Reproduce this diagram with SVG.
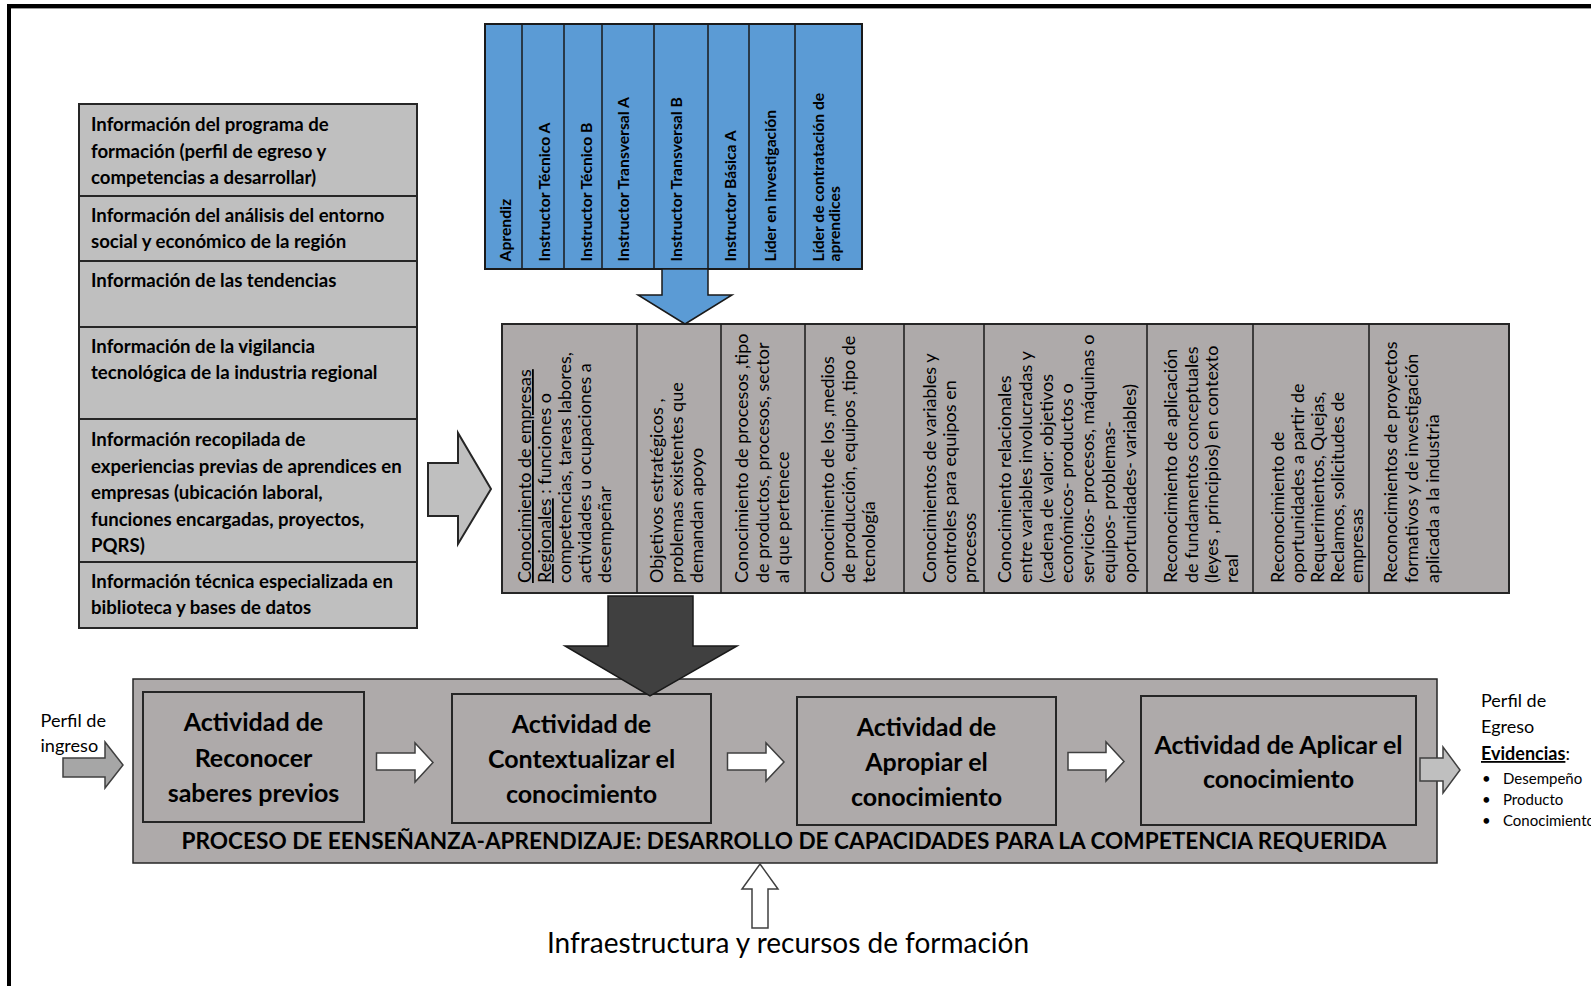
<svg xmlns="http://www.w3.org/2000/svg" width="1591" height="986" viewBox="0 0 1591 986">
<style>
.t{font-family:Lato,"Liberation Sans",sans-serif;fill:#000}
.bt{font-size:15.7px;font-weight:700}
.gt{font-size:18px}
.lt{font-size:18.6px;font-weight:700}
.at{font-size:25px;font-weight:700;text-anchor:middle}
.blue{fill:#5B9BD5;stroke:#1A1A1A;stroke-width:2}
.div{stroke:#1A1A1A;stroke-width:1.5;fill:none}
.gray{fill:#AEAAAA;stroke:#262626;stroke-width:2}
.light{fill:#BFBFBF;stroke:#262626;stroke-width:2}
.wa{fill:#FFFFFF;stroke:#404040;stroke-width:1.5}
.ga{stroke:#404040;stroke-width:1.5}
</style>
<rect width="1591" height="986" fill="#FFFFFF"/>
<g id="frame">
<rect x="7" y="4" width="1584" height="4" fill="#000"/>
<rect x="7" y="4" width="4" height="982" fill="#000"/>
<line x1="11" y1="8.5" x2="1591" y2="8.5" stroke="#9A9A9A" stroke-width="1"/>
</g>

<g id="roles">
<rect class="blue" x="485" y="24" width="377" height="245"/>
<path class="div" d="M522 24V269M564 24V269M602 24V269M654 24V269M708 24V269M749 24V269M795 24V269"/>
<text class="t bt" transform="translate(0,261.5) rotate(-90)">
<tspan x="0" y="511">Aprendiz</tspan>
<tspan x="0" y="550">Instructor Técnico  A</tspan>
<tspan x="0" y="591.5">Instructor Técnico  B</tspan>
<tspan x="0" y="629">Instructor Transversal A</tspan>
<tspan x="0" y="681.5">Instructor Transversal B</tspan>
<tspan x="0" y="735.5">Instructor Básica A</tspan>
<tspan x="0" y="775.5">Líder en investigación</tspan>
<tspan x="0" y="824">Líder de contratación de</tspan>
<tspan x="0" y="840">aprendices</tspan>
</text>
</g>

<g id="info">
<rect class="light" x="79" y="104" width="338" height="92"/>
<rect class="light" x="79" y="196" width="338" height="65"/>
<rect class="light" x="79" y="261" width="338" height="66"/>
<rect class="light" x="79" y="327" width="338" height="92"/>
<rect class="light" x="79" y="419" width="338" height="143"/>
<rect class="light" x="79" y="562" width="338" height="66"/>
<text class="t lt">
<tspan x="91" y="131">Información del programa de</tspan>
<tspan x="91" y="157.5">formación (perfil de egreso y</tspan>
<tspan x="91" y="184">competencias a desarrollar)</tspan>
<tspan x="91" y="221.5">Información del análisis del entorno</tspan>
<tspan x="91" y="247.5">social y económico de la región</tspan>
<tspan x="91" y="287">Información de las tendencias</tspan>
<tspan x="91" y="352.5">Información de la vigilancia</tspan>
<tspan x="91" y="378.5">tecnológica de la industria regional</tspan>
<tspan x="91" y="446">Información recopilada de</tspan>
<tspan x="91" y="472.5">experiencias previas de aprendices en</tspan>
<tspan x="91" y="499">empresas (ubicación  laboral,</tspan>
<tspan x="91" y="525.5">funciones encargadas, proyectos,</tspan>
<tspan x="91" y="552">PQRS)</tspan>
<tspan x="91" y="588">Información técnica especializada en</tspan>
<tspan x="91" y="614">biblioteca y bases de datos</tspan>
</text>
</g>

<g id="knowledge">
<rect class="gray" x="502" y="324" width="1007" height="269"/>
<path class="div" d="M637 324V593M721 324V593M805 324V593M904 324V593M984 324V593M1147 324V593M1253 324V593M1369 324V593"/>
<text class="t gt" transform="translate(0,583) rotate(-90)">
<tspan x="0" y="531" text-decoration="underline">Conocimiento de empresas</tspan>
<tspan x="0" y="551"><tspan text-decoration="underline">Regionales</tspan> : funciones o</tspan>
<tspan x="0" y="571">competencias, tareas labores,</tspan>
<tspan x="0" y="591">actividades u ocupaciones a</tspan>
<tspan x="0" y="611">desempeñar</tspan>
<tspan x="0" y="663">Objetivos estratégicos ,</tspan>
<tspan x="0" y="683">problemas existentes que</tspan>
<tspan x="0" y="703">demandan apoyo</tspan>
<tspan x="0" y="748">Conocimiento de procesos ,tipo</tspan>
<tspan x="0" y="768.5">de productos, procesos,  sector</tspan>
<tspan x="0" y="789">al que pertenece</tspan>
<tspan x="0" y="834">Conocimiento  de los ,medios</tspan>
<tspan x="0" y="854.5">de producción, equipos ,tipo de</tspan>
<tspan x="0" y="875">tecnología</tspan>
<tspan x="0" y="936">Conocimientos de variables y</tspan>
<tspan x="0" y="956">controles para equipos en</tspan>
<tspan x="0" y="976">procesos</tspan>
<tspan x="0" y="1011">Conocimiento relacionales</tspan>
<tspan x="0" y="1031.8">entre variables involucradas  y</tspan>
<tspan x="0" y="1052.6">(cadena de valor: objetivos</tspan>
<tspan x="0" y="1073.4">económicos- productos o</tspan>
<tspan x="0" y="1094.2">servicios- procesos, máquinas o</tspan>
<tspan x="0" y="1115">equipos-  problemas-</tspan>
<tspan x="0" y="1135.8">oportunidades- variables)</tspan>
<tspan x="0" y="1177">Reconocimiento de aplicación</tspan>
<tspan x="0" y="1197.5">de fundamentos conceptuales</tspan>
<tspan x="0" y="1218">(leyes , principios) en contexto</tspan>
<tspan x="0" y="1238">real</tspan>
<tspan x="0" y="1284">Reconocimiento de</tspan>
<tspan x="0" y="1304">oportunidades a partir de</tspan>
<tspan x="0" y="1324">Requerimientos, Quejas,</tspan>
<tspan x="0" y="1344">Reclamos, solicitudes de</tspan>
<tspan x="0" y="1363">empresas</tspan>
<tspan x="0" y="1397">Reconocimientos  de proyectos</tspan>
<tspan x="0" y="1418">formativos y de investigación</tspan>
<tspan x="0" y="1439">aplicada a la industria</tspan>
</text>
</g>

<g id="process">
<rect x="133" y="679" width="1304" height="184" fill="#AEAAAA" stroke="#262626" stroke-width="1.5"/>
<text class="t" x="784" y="849" text-anchor="middle" font-size="22.6" font-weight="700">PROCESO DE EENSEÑANZA-APRENDIZAJE: DESARROLLO DE CAPACIDADES PARA LA COMPETENCIA REQUERIDA</text>
</g>
<g id="act1">
<rect class="gray" x="143" y="692" width="221" height="130"/>
<text class="t at"><tspan x="253.5" y="731">Actividad de</tspan><tspan x="253.5" y="767">Reconocer</tspan><tspan x="253.5" y="802">saberes previos</tspan></text>
</g>
<g id="act2">
<rect class="gray" x="452" y="694" width="259" height="129"/>
<text class="t at"><tspan x="581.5" y="733">Actividad de</tspan><tspan x="581.5" y="768">Contextualizar el</tspan><tspan x="581.5" y="803">conocimiento</tspan></text>
</g>
<g id="act3">
<rect class="gray" x="797" y="697" width="259" height="128"/>
<text class="t at"><tspan x="926.5" y="736">Actividad de</tspan><tspan x="926.5" y="771">Apropiar el</tspan><tspan x="926.5" y="806">conocimiento</tspan></text>
</g>
<g id="act4">
<rect class="gray" x="1141" y="696" width="275" height="129"/>
<text class="t at"><tspan x="1278.5" y="754">Actividad de Aplicar el</tspan><tspan x="1278.5" y="788">conocimiento</tspan></text>
</g>

<g id="perfil-ingreso">
<text class="t" font-size="18.1"><tspan x="40.5" y="726.5">Perfil de</tspan><tspan x="40.5" y="751.5">ingreso</tspan></text>
</g>
<g id="perfil-egreso">
<text class="t" font-size="18"><tspan x="1481" y="707">Perfil de</tspan><tspan x="1481" y="733">Egreso</tspan><tspan x="1481" y="760" font-weight="700" text-decoration="underline">Evidencias</tspan><tspan>:</tspan></text>
<text class="t" font-size="15"><tspan x="1482" y="784">•</tspan><tspan x="1503" y="784">Desempeño</tspan><tspan x="1482" y="805">•</tspan><tspan x="1503" y="805">Producto</tspan><tspan x="1482" y="826">•</tspan><tspan x="1503" y="826">Conocimiento</tspan></text>
</g>
<g id="infraestructura">
<text class="t" x="788" y="953" text-anchor="middle" font-size="28">Infraestructura y recursos de formación</text>
</g>

<g id="connectors">
<polygon fill="#5B9BD5" stroke="#1A1A1A" stroke-width="1.5" points="662,269 708,269 708,295 732,295 685,324 638,295 662,295"/>
<polygon class="light" stroke-width="1.5" points="428,463 458,463 458,433 491,489 458,544 458,516 428,516"/>
<polygon fill="#404040" stroke="#1A1A1A" stroke-width="1.5" points="608,596 693,596 693,646 737,646 650,696 565,646 608,646"/>
<polygon class="wa" points="376.5,753 415,753 415,743 433,762.5 415,782 415,770 376.5,770"/>
<polygon class="wa" points="727.5,753 766,753 766,743 784,762 766,781 766,770 727.5,770"/>
<polygon class="wa" points="1068,752.5 1106,752.5 1106,742 1124,761.5 1106,781 1106,770 1068,770"/>
<polygon class="ga" fill="#A6A6A6" points="63,758 105,758 105,742 123,765 105,788 105,777 63,777"/>
<polygon class="ga" fill="#BFBFBF" points="1420,758 1443,758 1443,747 1460,770 1443,793 1443,781 1420,781"/>
<polygon class="wa" points="760,864 778,889 768,889 768,928 752,928 752,889 742,889"/>
</g>
</svg>
